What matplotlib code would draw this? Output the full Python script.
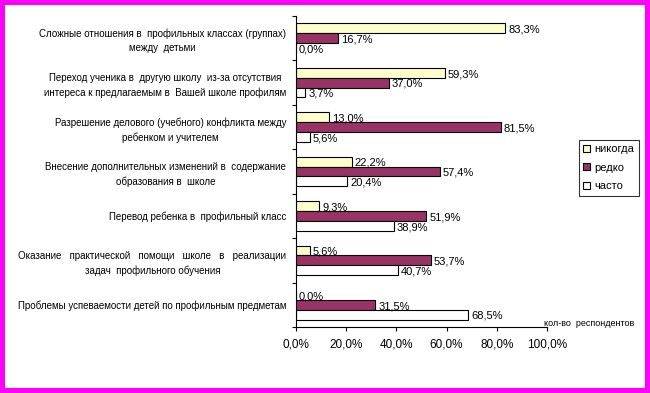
import numpy as np
import matplotlib
matplotlib.use('Agg')
from matplotlib import pyplot as plt
from matplotlib.ticker import FixedLocator

plt.rcParams['font.family'] = ['Liberation Sans', 'DejaVu Sans']

categories = [
    'Сложные отношения в  профильных классах (группах)\nмежду  детьми',
    'Переход ученика в  другую школу  из-за отсутствия\nинтереса к предлагаемым в  Вашей школе профилям',
    'Разрешение делового (учебного) конфликта между\nребенком и учителем',
    'Внесение дополнительных изменений в  содержание\nобразования в  школе',
    'Перевод ребенка в  профильный класс',
    'Оказание   практической   помощи   школе   в   реализации\nзадач  профильного обучения',
    'Проблемы успеваемости детей по профильным предметам',
]
never = [83.3, 59.3, 13.0, 22.2, 9.3, 5.6, 0.0]
rarely = [16.7, 37.0, 81.5, 57.4, 51.9, 53.7, 31.5]
often = [0.0, 3.7, 5.6, 20.4, 38.9, 40.7, 68.5]
series_names = ['никогда', 'редко', 'часто']
colors = ['#FFFFCC', '#993366', '#FFFFFF']
xticks = [0, 20, 40, 60, 80, 100]

fig = plt.figure(figsize=(6.5, 3.93), dpi=100)
fig.patch.set_facecolor('white')
fig.patch.set_edgecolor('#FF00FF')
fig.patch.set_linewidth(7.2)

ax = fig.add_axes([296/650, 66/393, 251/650, 311/393])

y = np.arange(len(categories))
h = 1 / 4.5
for k, (vals, name, c) in enumerate(zip([never, rarely, often], series_names, colors)):
    pos = y + (k - 1) * h
    bars = ax.barh(pos, vals, height=h, color=c, edgecolor='black', linewidth=0.8, label=name)
    for b, v in zip(bars, vals):
        ax.text(v + 1.2, b.get_y() + h / 2 + 0.03, f'{v:.1f}%'.replace('.', ','),
                va='center', ha='left', fontsize=8)

ax.set_xlim(0, 100)
ax.set_ylim(len(categories) - 0.5, -0.5)
ax.set_xticks(xticks)
ax.set_xticklabels([f'{t:.1f}%'.replace('.', ',') for t in xticks], fontsize=8.5)
ax.set_yticks(y)
ax.set_yticklabels(categories, fontsize=7, multialignment='center', linespacing=1.5)
ax.yaxis.set_minor_locator(FixedLocator(np.arange(-0.5, len(categories), 1.0)))
ax.tick_params(axis='y', which='major', length=0, pad=7)
ax.tick_params(axis='y', which='minor', length=3, width=0.8, direction='out')
ax.tick_params(axis='x', length=3, width=0.8, direction='out', pad=5)

for s in ['top', 'right']:
    ax.spines[s].set_visible(False)
for s in ['left', 'bottom']:
    ax.spines[s].set_linewidth(0.8)

leg = fig.legend(loc='upper left', bbox_to_anchor=(579/650, 1 - 140/393),
                 fontsize=8, frameon=True, fancybox=False, edgecolor='black',
                 handlelength=0.6, handleheight=0.6, handletextpad=0.4,
                 labelspacing=0.75, borderpad=0.4, borderaxespad=0)
leg.get_frame().set_linewidth(0.8)

fig.text(544/650, 1 - 323/393, 'кол-во  респондентов', fontsize=6.5, va='center', ha='left')

fig.savefig('out.png', dpi=100)
